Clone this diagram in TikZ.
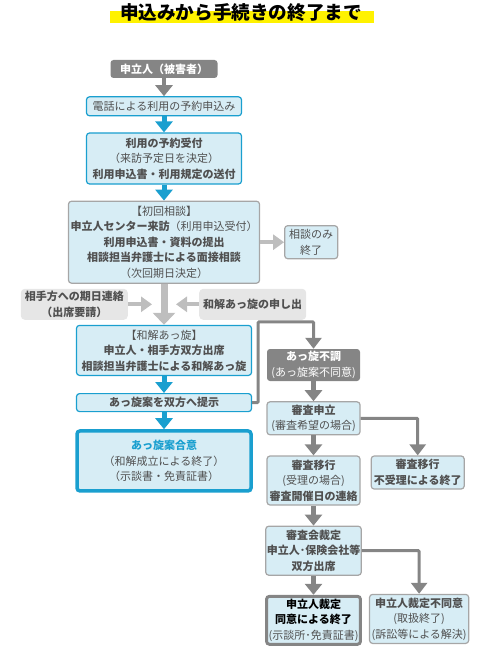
\documentclass[tikz,border=0pt]{standalone}
\usepackage{fontspec}
\setmainfont{Noto Sans CJK JP}
\usetikzlibrary{arrows.meta, positioning, calc}

\definecolor{boxfill}{HTML}{D7EDF5}
\definecolor{boxblue}{HTML}{1A9FCF}
\definecolor{boxline}{HTML}{A6A6A6}
\definecolor{flowgray}{HTML}{858585}
\definecolor{lightflow}{HTML}{BEBEBE}
\definecolor{softgray}{HTML}{E6E6E6}
\definecolor{textgray}{HTML}{505050}
\definecolor{titleyellow}{HTML}{FFF200}

\tikzset{
  box/.style={draw=boxline, fill=boxfill, rounded corners=3pt, line width=1.2pt, align=center,
    text=textgray, inner sep=2pt, font=\fontsize{11}{15.5}\selectfont},
  bluebox/.style={box, draw=boxblue},
  greybox/.style={fill=flowgray, rounded corners=3pt, align=center, text=white, inner sep=2pt,
    font=\fontsize{11}{15.5}\selectfont},
  notebox/.style={fill=softgray, rounded corners=4pt, align=center, text=textgray, inner sep=2pt,
    font=\fontsize{11}{15.5}\selectfont\bfseries},
  bluearrow/.style={draw=boxblue, line width=5pt, -{Triangle[width=17pt,length=11pt]}},
  darkarrow/.style={draw=flowgray, line width=4.5pt, -{Triangle[width=17pt,length=11pt]}},
  lightarrow/.style={draw=lightflow, line width=4pt, -{Triangle[width=15pt,length=11pt]}},
  bigarrow/.style={draw=lightflow, line width=7pt, -{Triangle[width=22pt,length=12pt]}},
  route/.style={draw=flowgray, line width=3pt, rounded corners=1pt, -{Triangle[width=16pt,length=11pt]}}
}

\begin{document}
\begin{tikzpicture}[x=1pt, y=-1pt]
  \useasboundingbox (0,0) rectangle (484,663);

  % Title
  \fill[titleyellow] (110,11) rectangle (374,23);
  \node[font=\fontsize{18.6}{18.6}\selectfont\bfseries] (title) at (241,12) {申込みから手続きの終了まで};

  % Main column
  \node[greybox, font=\fontsize{11}{15.5}\selectfont\bfseries, minimum width=107pt, minimum height=18pt] (moushitate) at (164,69) {申立人（被害者）};
  \node[bluebox, below=18pt of moushitate, minimum width=155pt, minimum height=19pt] (denwa) {電話による利用の予約申込み};
  \node[bluebox, below=16pt of denwa, minimum width=155pt, minimum height=51pt] (uketsuke)
    {\textbf{利用の予約受付}\\（来訪予定日を決定）\\\textbf{利用申込書・利用規定の送付}};
  \node[box, below=16pt of uketsuke, minimum width=190pt, minimum height=82pt] (shodan)
    {【初回相談】\\\textbf{申立人センター来訪}（利用申込受付）\\\textbf{利用申込書・資料の提出}\\\textbf{相談担当弁護士による面接相談}\\（次回期日決定）};
  \node[box, right=24pt of shodan, minimum width=53pt, minimum height=33pt] (soudanonly) {相談のみ\\終了};

  \node[bluebox, below=41pt of shodan, minimum width=175pt, minimum height=50pt] (wakai)
    {【和解あっ旋】\\\textbf{申立人・相手方双方出席}\\\textbf{相談担当弁護士による和解あっ旋}};
  \node[bluebox, below=17pt of wakai, minimum width=175pt, minimum height=18pt] (teiji) {\textbf{あっ旋案を双方へ提示}};
  \node[bluebox, line width=3.5pt, below=17pt of teiji, minimum width=174pt, minimum height=60pt] (goui)
    {\textcolor{boxblue}{\textbf{あっ旋案合意}}\\（和解成立による終了）\\（示談書・免責証書）};

  % Side notes
  \coordinate (mid) at ($(shodan.south)!0.5!(wakai.north)$);
  \coordinate[left=12pt of mid] (midl);
  \coordinate[right=12pt of mid] (midr);
  \node[notebox, left=36pt of mid, minimum width=107pt, minimum height=31pt] (aite) {相手方への期日連絡\\（出席要請）};
  \node[notebox, right=35pt of mid, minimum width=107pt, minimum height=31pt] (moushide) {和解あっ旋の申し出};

  % Right column
  \node[greybox, minimum width=93pt, minimum height=32pt] (fuchou) at (313.5,365)
    {\textbf{あっ旋不調}\\(あっ旋案不同意)};
  \node[box, below=20pt of fuchou, minimum width=93pt, minimum height=33pt] (shinsa)
    {\textbf{審査申立}\\(審査希望の場合)};
  \node[box, below=20pt of shinsa, minimum width=93pt, minimum height=49pt] (ikou)
    {\textbf{審査移行}\\(受理の場合)\\\textbf{審査開催日の連絡}};
  \node[box, below right=0pt and 10pt of ikou.north east, minimum width=93pt, minimum height=33pt] (fujuri)
    {\textbf{審査移行}\\\textbf{不受理による終了}};
  \node[box, inner sep=1pt, below=20pt of ikou, minimum width=93pt, minimum height=49pt] (saitei)
    {\textbf{審査会裁定}\\\textbf{申立人･保険会社等}\\\textbf{双方出席}};
  \node[box, draw=flowgray, line width=3pt, below=19pt of saitei, minimum width=92pt, minimum height=48pt] (doui)
    {\textcolor{black}{\textbf{申立人裁定}}\\\textcolor{black}{\textbf{同意による終了}}\\(示談所･免責証書)};
  \node[box, below right=-1pt and 7pt of doui.north east, minimum width=93pt, minimum height=49pt] (fudoui)
    {\textbf{申立人裁定不同意}\\(取扱終了)\\(訴訟等による解決)};

  % Connections
  \draw[darkarrow] (moushitate) -- (denwa);
  \draw[bluearrow] (denwa) -- (uketsuke);
  \draw[bluearrow] (uketsuke) -- (shodan);
  \draw[lightarrow] (shodan) -- (soudanonly);
  \draw[bigarrow] (shodan) -- (wakai);
  \draw[lightarrow] (aite) -- (midl);
  \draw[lightarrow] (moushide) -- (midr);
  \draw[bluearrow] (wakai) -- (teiji);
  \draw[bluearrow] (teiji) -- (goui);
  \draw[route] (teiji.east) -- ++(6pt,0) |- ([yshift=27pt]fuchou.north) -- (fuchou.north);
  \draw[darkarrow] (fuchou) -- (shinsa);
  \draw[darkarrow] (shinsa) -- (ikou);
  \draw[route] (shinsa.east) -| (fujuri.north);
  \draw[darkarrow] (ikou) -- (saitei);
  \draw[route] (saitei.east) -| (fudoui.north);
  \draw[darkarrow] (saitei) -- (doui);
\end{tikzpicture}
\end{document}
